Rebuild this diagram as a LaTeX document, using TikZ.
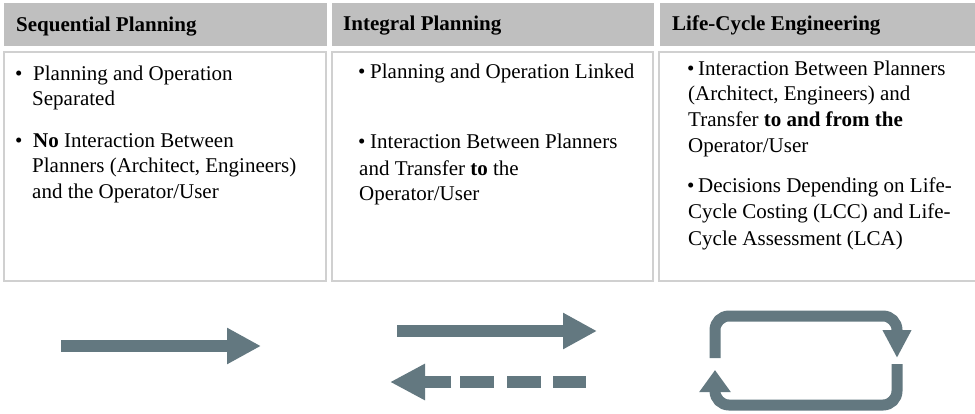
\documentclass[tikz,border=0pt]{standalone}
\usepackage{fontspec}
\setmainfont{Liberation Serif}
\usetikzlibrary{arrows.meta}
\definecolor{hdr}{RGB}{191,191,191}
\definecolor{bord}{RGB}{208,208,208}
\definecolor{arrc}{RGB}{99,120,128}
\begin{document}
\begin{tikzpicture}[x=1pt,y=-1pt,
  hdrbox/.style={fill=hdr},
  bodybox/.style={draw=bord, line width=1.8pt, fill=white},
  ln/.style={anchor=base west, inner sep=0pt, font=\fontsize{21}{25}\selectfont},
  hd/.style={anchor=base west, inner sep=0pt, font=\fontsize{21}{25}\selectfont\bfseries},
  fat/.style={draw=arrc, line width=12pt, -{Triangle[length=34pt,width=34pt]}},
  dashseg/.style={draw=arrc, line width=12pt},
  loopline/.style={draw=arrc, line width=11pt, rounded corners=14pt},
]
\clip (0,0) rectangle (975,413);
\fill[white] (0,0) rectangle (975,413);
% header boxes
\path[hdrbox] (4,3) rectangle (327,46);
\path[hdrbox] (332,3) rectangle (654,46);
\path[hdrbox] (660,3) rectangle (990,46);
% body boxes
\path[bodybox] (4,52) rectangle (326,281);
\path[bodybox] (332,52) rectangle (653,281);
\path[bodybox] (659,52) rectangle (990,281);
% headers
\node[hd] (h1) at (16,31) {Sequential Planning};
\node[hd] (h2) at (343,30) {Integral Planning};
\node[hd] (h3) at (672,30) {Life-Cycle Engineering};
% column 1
\node[ln] (b11) at (15,80) {•};
\node[ln] (t11) at (33,80) {Planning and Operation};
\node[ln] (t12) at (32,105) {Separated};
\node[ln] (b12) at (15,147) {•};
\node[ln] (t13) at (33,147) {\textbf{No} Interaction Between};
\node[ln] (t14) at (32,172) {Planners (Architect, Engineers)};
\node[ln] (t15) at (32,198) {and the Operator/User};
% column 2
\node[ln] (b21) at (358,78) {•};
\node[ln] (t21) at (370,78) {Planning and Operation Linked};
\node[ln] (b22) at (358,148) {•};
\node[ln] (t22) at (370,148) {Interaction Between Planners};
\node[ln] (t23) at (359,175) {and Transfer \textbf{to} the};
\node[ln] (t24) at (359,200) {Operator/User};
% column 3
\node[ln] (b31) at (687,75) {•};
\node[ln] (t31) at (698,75) {Interaction Between Planners};
\node[ln] (t32) at (688,100) {(Architect, Engineers) and};
\node[ln] (t33) at (688,126) {Transfer \textbf{to and from the}};
\node[ln] (t34) at (688,152) {Operator/User};
\node[ln] (b32) at (687,192) {•};
\node[ln] (t35) at (698,192) {Decisions Depending on Life-};
\node[ln] (t36) at (688,218) {Cycle Costing (LCC) and Life-};
\node[ln] (t37) at (688,245) {Cycle Assessment (LCA)};
% arrow 1
\coordinate (a1s) at (61,346);
\coordinate (a1e) at (261,346);
\draw[fat] (a1s) -- (a1e);
% arrow 2 top
\coordinate (a2s) at (397,331);
\coordinate (a2e) at (597,331);
\draw[fat] (a2s) -- (a2e);
% dashed back arrow
\coordinate (a3s) at (451,382);
\coordinate (a3e) at (390,382);
\draw[fat, -{Triangle[length=35pt,width=34pt]}] (a3s) -- (a3e);
\coordinate (d1a) at (460,382); \coordinate (d1b) at (494,382);
\coordinate (d2a) at (507,382); \coordinate (d2b) at (541,382);
\coordinate (d3a) at (553,382); \coordinate (d3b) at (586,382);
\draw[dashseg] (d1a) -- (d1b);
\draw[dashseg] (d2a) -- (d2b);
\draw[dashseg] (d3a) -- (d3b);
% cycle
\coordinate (lA) at (715,358);
\coordinate (lB) at (715,316);
\coordinate (lC) at (897,316);
\coordinate (lD) at (897,358);
\coordinate (lE) at (897,364);
\coordinate (lF) at (897,405);
\coordinate (lG) at (715,405);
\coordinate (lH) at (715,370);
\draw[loopline, -{Triangle[length=28pt,width=27pt]}] (lA) -- (lB) -- (lC) -- (lD);
\draw[loopline, -{Triangle[length=22pt,width=30pt]}] (lE) -- (lF) -- (lG) -- (lH);
\end{tikzpicture}
\end{document}
